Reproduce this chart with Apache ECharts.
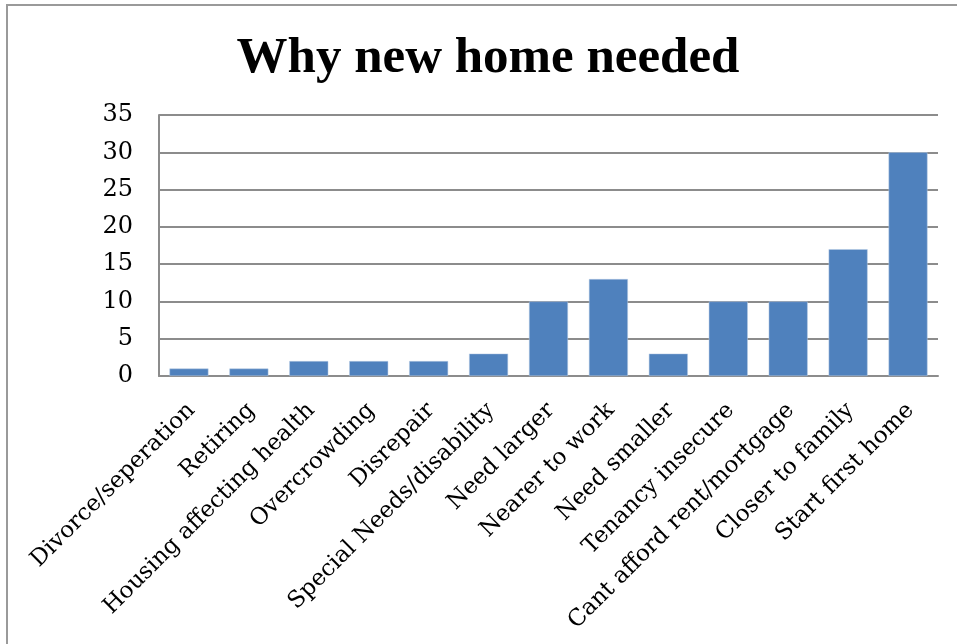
<!DOCTYPE html>
<html>
<head>
<meta charset="utf-8">
<script src="https://cdn.jsdelivr.net/npm/echarts@6/dist/echarts.min.js"></script>
<style>
  html, body { margin: 0; padding: 0; background: #fff; overflow: hidden; }
  #chart { width: 957px; height: 644px; }
</style>
</head>
<body>
<div id="chart"></div>
<script>
// reasons and counts
const reasons = [
  "Divorce/seperation", "Retiring", "Housing affecting health", "Overcrowding",
  "Disrepair", "Special Needs/disability", "Need larger", "Nearer to work",
  "Need smaller", "Tenancy insecure", "Cant afford rent/mortgage",
  "Closer to family", "Start first home"
];
const counts = [1, 1, 2, 2, 2, 3, 10, 13, 3, 10, 10, 17, 30];
const yTicks = [0, 5, 10, 15, 20, 25, 30, 35];

const myChart = echarts.init(document.getElementById("chart"));

const option = {
  backgroundColor: "#ffffff",
  animation: false,
  title: {
    text: "Why new home needed",
    left: 483,
    top: 28,
    textAlign: "center",
    textStyle: {
      fontFamily: "Liberation Serif",
      fontWeight: "bold",
      fontSize: 51,
      color: "#000",
    },
  },
  // frame round the chart (only top and left edges are visible)
  graphic: [
    {
      type: "polyline",
      shape: { points: [[7, 700], [7, 5], [1000, 5]] },
      style: { stroke: "#9a9a9a", lineWidth: 2, fill: null },
      silent: true,
    },
  ],
  grid: {
    left: 159,
    right: 19,
    top: 115,
    bottom: 268,
    containLabel: false,
  },
  xAxis: {
    type: "category",
    data: reasons,
    axisLine: { lineStyle: { color: "#8c8c8c", width: 2 } },
    axisTick: { show: false },
    axisLabel: {
      rotate: 45,
      interval: 0,
      margin: 17,
      verticalAlign: "top",
      padding: [0, 8, 0, 0],
      fontFamily: "DejaVu Serif",
      fontSize: 23,
      color: "#000",
    },
  },
  yAxis: {
    type: "value",
    min: yTicks[0],
    max: yTicks[yTicks.length - 1],
    interval: 5,
    axisLine: { show: true, lineStyle: { color: "#8c8c8c", width: 2 } },
    axisTick: { show: false },
    axisLabel: {
      margin: 26,
      fontFamily: "DejaVu Serif",
      fontSize: 24,
      color: "#000",
    },
    splitLine: {
      show: true,
      lineStyle: { color: "#8c8c8c", width: 2 },
    },
  },
  series: [
    {
      type: "bar",
      data: counts,
      barCategoryGap: "35%",
      itemStyle: {
        color: "#4f81bd",
        borderColor: "#b9cde5",
        borderWidth: 0.5,
      },
    },
  ],
};

myChart.setOption(option);
</script>
</body>
</html>
